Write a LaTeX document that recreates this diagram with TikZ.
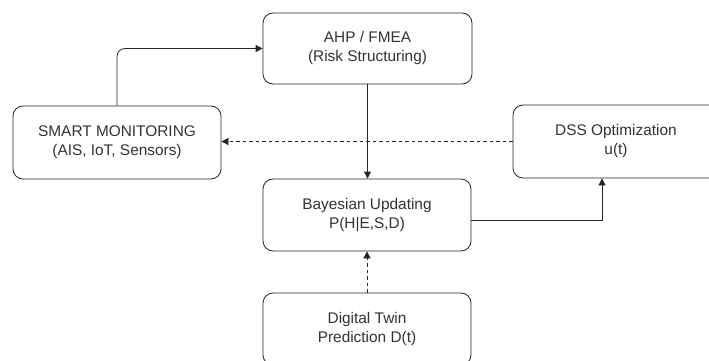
\documentclass[tikz,border=0pt]{standalone}
\usepackage{fontspec}
\setmainfont{Liberation Sans}
\usetikzlibrary{arrows.meta,calc}
\definecolor{lc}{HTML}{262626}
\definecolor{tc}{HTML}{333333}
\tikzset{
  box/.style={draw=lc, line width=0.8pt, rounded corners=10pt, inner sep=0pt,
    minimum width=208pt, minimum height=72pt, align=center, text=tc,
    font=\fontsize{15.4}{19}\selectfont},
  arr/.style={draw=lc, line width=0.8pt, -{Triangle[length=7pt,width=7pt]}},
  darr/.style={arr, dash pattern=on 3.5pt off 3pt}
}
\begin{document}
\begin{tikzpicture}[x=1pt,y=-1pt]
\fill[white] (0,0) rectangle (709,361);
\useasboundingbox (0,0) rectangle (709,361);
\clip (0,0) rectangle (709,361);
\node[box, minimum width=209pt, minimum height=71pt] (ahp) at (367.5,48.5) {AHP / FMEA\\(Risk Structuring)};
\node[box, minimum height=73pt] (smart) at (117,142.5) {SMART MONITORING\\(AIS, IoT, Sensors)};
\node[box] (bayes) at (367,215) {Bayesian Updating\\P(H|E,S,D)};
\node[box, minimum width=206pt, minimum height=73pt] (dss) at (616,141.5) {DSS Optimization\\u(t)};
\node[box] (twin) at (367,329) {Digital Twin\\Prediction D(t)};
\draw[arr, rounded corners=8pt] (smart.north) |- (ahp.west);
\draw[arr] (ahp.south) -- (ahp.south |- bayes.north);
\draw[darr] (dss.west) -- (dss.west -| smart.east);
\draw[arr] ($(bayes.east)+(0,5)$) -| ($(dss.south)+(-14,0)$);
\draw[darr] (twin.north) -- (bayes.south);
\end{tikzpicture}
\end{document}
